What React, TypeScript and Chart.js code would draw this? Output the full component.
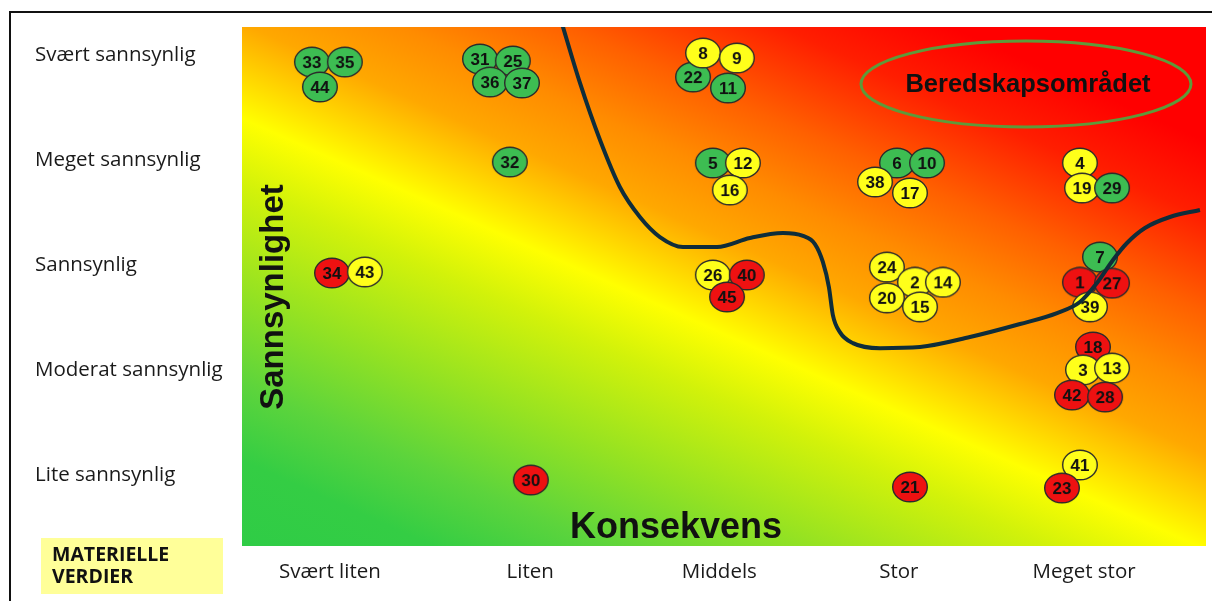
import React, { useEffect, useRef } from 'react';
import { Chart, registerables } from 'chart.js';

Chart.register(...registerables);

// Axis categories
const xLabels = ['Svært liten', 'Liten', 'Middels', 'Stor', 'Meget stor'];
const xTickValues = [1, 2.06, 3.06, 4.01, 4.99];
const yLabels = ['Lite sannsynlig', 'Moderat sannsynlig', 'Sannsynlig', 'Meget sannsynlig', 'Svært sannsynlig'];
const yTickValues = [1, 2, 3, 4, 5];

// Risk items (drawing order = list order)
const riskIds = [
  '33', '35', '44',
  '31', '25', '36', '37',
  '32',
  '22', '8', '9', '11',
  '5', '12', '16',
  '26', '40', '45',
  '6', '10', '38', '17',
  '24', '2', '14', '20', '15',
  '4', '19', '29',
  '7', '1', '27', '39',
  '18', '3', '13', '42', '28',
  '41', '23',
  '21', '30',
  '34', '43',
];
const riskX = [
  0.905, 1.079, 0.947,
  1.794, 1.968, 1.847, 2.016,
  1.952,
  2.921, 2.974, 3.153, 3.106,
  3.026, 3.185, 3.116,
  3.026, 3.206, 3.101,
  4.0, 4.159, 3.884, 4.069,
  3.947, 4.095, 4.243, 3.947, 4.122,
  4.968, 4.979, 5.138,
  5.074, 4.968, 5.138, 5.021,
  5.037, 4.984, 5.138, 4.926, 5.101,
  4.968, 4.873,
  4.069, 2.063,
  1.011, 1.185,
];
const riskY = [
  4.936, 4.936, 4.698,
  4.965, 4.946, 4.745, 4.736,
  3.982,
  4.793, 5.022, 4.974, 4.688,
  3.973, 3.973, 3.715,
  2.905, 2.905, 2.695,
  3.973, 3.973, 3.792, 3.687,
  2.98, 2.835, 2.835, 2.687, 2.601,
  3.973, 3.734, 3.734,
  3.076, 2.835, 2.826, 2.601,
  2.218, 2.0, 2.017, 1.76, 1.741,
  1.093, 0.873,
  0.883, 0.949,
  2.924, 2.934,
];
const riskLevel = [
  'g', 'g', 'g',
  'g', 'g', 'g', 'g',
  'g',
  'g', 'y', 'y', 'g',
  'g', 'y', 'y',
  'y', 'r', 'r',
  'g', 'g', 'y', 'y',
  'y', 'y', 'y', 'y', 'y',
  'y', 'y', 'g',
  'g', 'r', 'r', 'y',
  'r', 'y', 'y', 'r', 'r',
  'y', 'r',
  'r', 'r',
  'r', 'y',
];

// Boundary curve of the preparedness area
const curveX = [2.222, 2.323, 2.429, 2.534, 2.64, 2.746, 2.868, 3.048, 3.222, 3.397, 3.503, 3.566, 3.608, 3.64, 3.661, 3.698, 3.767, 3.91, 4.122, 4.386, 4.651, 4.847, 4.968, 5.058, 5.143, 5.217, 5.312, 5.444, 5.603];
const curveY = [5.337, 4.736, 4.192, 3.744, 3.458, 3.267, 3.172, 3.172, 3.258, 3.305, 3.277, 3.2, 3.029, 2.789, 2.522, 2.36, 2.255, 2.207, 2.218, 2.313, 2.437, 2.542, 2.647, 2.828, 3.048, 3.21, 3.353, 3.458, 3.525];

const levelFill: Record<string, string> = { g: '#3dbd52', y: '#ffff1a', r: '#ee1111' };

function makeBubble(id: string, level: string): HTMLCanvasElement {
  const c = document.createElement('canvas');
  c.width = 38;
  c.height = 32;
  const ctx = c.getContext('2d')!;
  ctx.beginPath();
  ctx.ellipse(19, 16, 17.3, 14.8, 0, 0, Math.PI * 2);
  ctx.fillStyle = levelFill[level];
  ctx.fill();
  ctx.lineWidth = 1.4;
  ctx.strokeStyle = '#2b2b2b';
  ctx.stroke();
  ctx.fillStyle = '#111';
  ctx.font = 'bold 17px "Liberation Sans", Arial, sans-serif';
  ctx.textAlign = 'center';
  ctx.textBaseline = 'middle';
  ctx.fillText(id, 19, 17);
  return c;
}

const decorPlugin = {
  id: 'decor',
  beforeDraw(chart: any) {
    const { ctx, chartArea: a } = chart;
    ctx.save();
    ctx.fillStyle = '#ffffff';
    ctx.fillRect(0, 0, chart.width, chart.height);
    // outer frame
    ctx.strokeStyle = '#111';
    ctx.lineWidth = 2;
    ctx.beginPath();
    ctx.moveTo(10, chart.height + 2);
    ctx.lineTo(10, 12);
    ctx.lineTo(chart.width + 2, 12);
    ctx.stroke();
    // gradient background (green bottom-left -> red top-right)
    const w = a.right - a.left;
    const h = a.bottom - a.top;
    const ax = 0.447;
    const k = (ax * w + h) / (ax * ax + 1);
    const g = ctx.createLinearGradient(a.left, a.bottom, a.left + ax * k, a.bottom - k);
    g.addColorStop(0, '#2fcc46');
    g.addColorStop(0.09, '#34cd44');
    g.addColorStop(0.17, '#5cd43c');
    g.addColorStop(0.27, '#95e222');
    g.addColorStop(0.38, '#d2f20a');
    g.addColorStop(0.45, '#ffff00');
    g.addColorStop(0.55, '#ffa800');
    g.addColorStop(0.62, '#ff8c00');
    g.addColorStop(0.7, '#ff6000');
    g.addColorStop(0.8, '#ff1e00');
    g.addColorStop(0.88, '#ff0000');
    g.addColorStop(1, '#ff0000');
    ctx.fillStyle = g;
    ctx.fillRect(a.left, a.top, w, h);
    // category box
    ctx.fillStyle = '#ffff99';
    ctx.fillRect(41, 538, 182, 56);
    ctx.fillStyle = '#111';
    ctx.font = 'bold 19.5px "Open Sans", sans-serif';
    ctx.textAlign = 'left';
    ctx.textBaseline = 'alphabetic';
    ctx.fillText('MATERIELLE', 52, 561);
    ctx.fillText('VERDIER', 52, 583);
    ctx.restore();
  },
  beforeDatasetsDraw(chart: any) {
    const { ctx, chartArea: a } = chart;
    ctx.save();
    ctx.fillStyle = '#111';
    // axis titles inside the plot
    ctx.font = 'bold 33px "Liberation Sans", Arial, sans-serif';
    ctx.textAlign = 'center';
    ctx.textBaseline = 'alphabetic';
    ctx.save();
    ctx.translate(a.left + 41, a.top + 270);
    ctx.rotate(-Math.PI / 2);
    ctx.fillText('Sannsynlighet', 0, 0);
    ctx.restore();
    ctx.font = 'bold 36px "Liberation Sans", Arial, sans-serif';
    ctx.fillText('Konsekvens', a.left + 434, a.bottom - 8);
    // preparedness ellipse
    ctx.beginPath();
    ctx.ellipse(a.left + 784, a.top + 57, 165, 43, 0, 0, Math.PI * 2);
    ctx.strokeStyle = '#5e9a3a';
    ctx.lineWidth = 3;
    ctx.stroke();
    ctx.font = 'bold 25.5px "Liberation Sans", Arial, sans-serif';
    ctx.fillText('Beredskapsområdet', a.left + 786, a.top + 65);
    ctx.restore();
  },
};

export default function App() {
  const ref = useRef<HTMLCanvasElement>(null);

  useEffect(() => {
    const canvas = ref.current;
    if (!canvas) return;
    const images = riskIds.map((id, i) => makeBubble(id, riskLevel[i]));
    const tickFont = { family: '"Open Sans", sans-serif', size: 20.5 };
    const chart = new Chart(canvas, {
      type: 'scatter',
      data: {
        datasets: [
          {
            label: 'Grense',
            data: curveX.map((x, i) => ({ x, y: curveY[i] })),
            showLine: true,
            borderColor: '#0f2d3a',
            borderWidth: 4,
            pointRadius: 0,
            cubicInterpolationMode: 'monotone',
            order: 0,
          },
          {
            label: 'Risiko',
            data: riskX.map((x, i) => ({ x, y: riskY[i] })),
            pointStyle: images as any,
            pointRadius: 17,
            order: 1,
          },
        ],
      },
      options: {
        responsive: false,
        animation: false,
        events: [],
        layout: { autoPadding: false, padding: { left: 35, top: 27, right: 6, bottom: 0 } },
        plugins: { legend: { display: false }, tooltip: { enabled: false } },
        scales: {
          x: {
            type: 'linear',
            min: 0.535,
            max: 5.635,
            grid: { display: false, drawTicks: false },
            border: { display: false },
            afterBuildTicks: (scale: any) => {
              scale.ticks = xTickValues.map((v) => ({ value: v }));
            },
            afterFit: (scale: any) => {
              scale.height = 55;
              scale.paddingLeft = 0;
              scale.paddingRight = 0;
            },
            ticks: {
              autoSkip: false,
              maxRotation: 0,
              padding: 14,
              color: '#1a1a1a',
              font: tickFont,
              callback: (_v: any, i: number) => xLabels[i],
            },
          },
          y: {
            type: 'linear',
            min: 0.32,
            max: 5.27,
            grid: { display: false, drawTicks: false },
            border: { display: false },
            afterBuildTicks: (scale: any) => {
              scale.ticks = yTickValues.map((v) => ({ value: v }));
            },
            afterFit: (scale: any) => {
              scale.width = 207;
              scale.paddingTop = 0;
              scale.paddingBottom = 0;
            },
            ticks: {
              autoSkip: false,
              crossAlign: 'far',
              color: '#1a1a1a',
              font: tickFont,
              callback: (_v: any, i: number) => yLabels[i],
            },
          },
        },
      },
      plugins: [decorPlugin],
    } as any);
    return () => chart.destroy();
  }, []);

  return (
    <div style={{ position: 'fixed', left: 0, top: 0, width: 1212, height: 601, background: '#fff' }}>
      <canvas ref={ref} width={1212} height={601} style={{ display: 'block' }} />
    </div>
  );
}
